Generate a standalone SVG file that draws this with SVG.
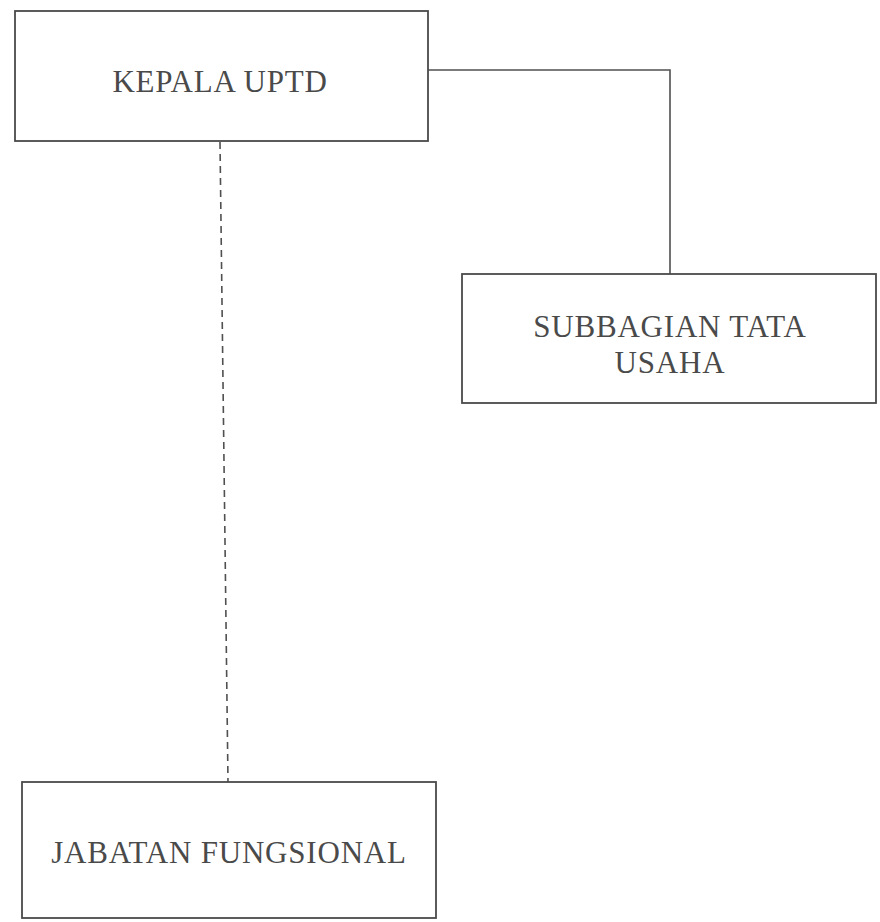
<svg xmlns="http://www.w3.org/2000/svg" width="880" height="922" viewBox="0 0 880 922">
<style>
.box{fill:#ffffff;stroke:#4a4a4a;stroke-width:1.8}
.lbl{font-family:"Liberation Serif","Times New Roman",serif;font-size:31px;letter-spacing:0.8px;fill:#4a4a4a;text-anchor:middle}
.conn{fill:none;stroke:#505050;stroke-width:1.6}
.dash{fill:none;stroke:#505050;stroke-width:1.6;stroke-dasharray:7 5}
</style>
<rect width="880" height="922" fill="#ffffff"/>
<g id="connectors">
<polyline class="conn" points="428,70 670,70 670,274"/>
<line class="dash" x1="220" y1="142" x2="228" y2="782"/>
</g>
<g id="kepala">
<rect class="box" x="15" y="11" width="413" height="130"/>
<text class="lbl" x="220" y="92">KEPALA UPTD</text>
</g>
<g id="subbagian">
<rect class="box" x="462" y="274" width="414" height="129"/>
<text class="lbl" x="670" y="337">SUBBAGIAN TATA</text>
<text class="lbl" x="670" y="373">USAHA</text>
</g>
<g id="jabatan">
<rect class="box" x="22" y="782" width="414" height="136"/>
<text class="lbl" x="229" y="863">JABATAN FUNGSIONAL</text>
</g>
</svg>
